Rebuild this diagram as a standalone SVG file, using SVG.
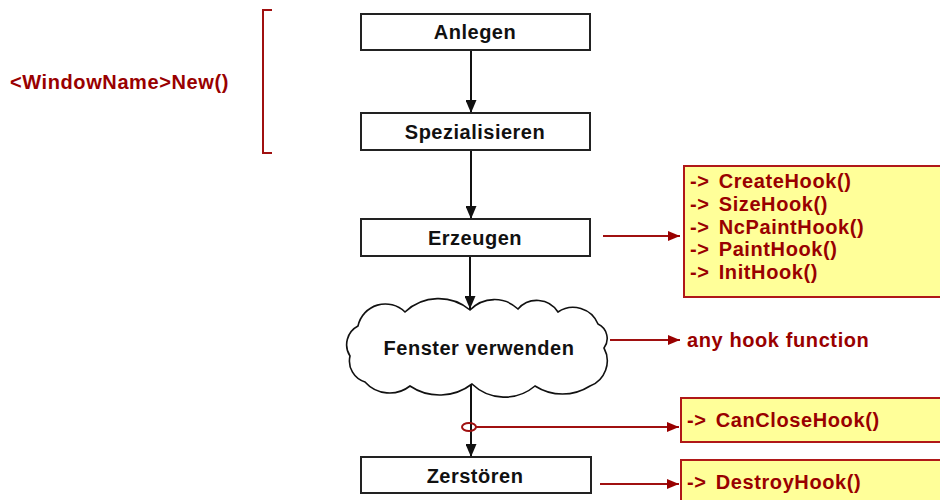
<svg xmlns="http://www.w3.org/2000/svg" width="940" height="500" viewBox="0 0 940 500">
<defs>
<style>
.box{fill:#ffffff;stroke:#222222;stroke-width:2}
.hook{fill:#ffff99;stroke:#b01818;stroke-width:2}
.t{font-family:"Liberation Sans",Arial,sans-serif;font-weight:bold;font-size:20px;letter-spacing:0.5px;fill:#111111}
.r{font-family:"Liberation Sans",Arial,sans-serif;font-weight:bold;font-size:20px;letter-spacing:0.6px;fill:#990000}
.hk{word-spacing:3px}
.flow{stroke:#111111;stroke-width:2;fill:none}
.red{stroke:#a01010;stroke-width:2;fill:none}
</style>
<marker id="ab" viewBox="0 0 13 11" refX="13" refY="5.5" markerWidth="13" markerHeight="11" markerUnits="userSpaceOnUse" orient="auto">
<path d="M0,0 L13,5.5 L0,11 Z" fill="#111111"/>
</marker>
<marker id="ar" viewBox="0 0 12 10" refX="12" refY="5" markerWidth="12" markerHeight="10" markerUnits="userSpaceOnUse" orient="auto">
<path d="M0,0 L12,5 L0,10 Z" fill="#990000"/>
</marker>
</defs>
<rect width="940" height="500" fill="#ffffff"/>

<g id="bracket">
<path d="M272,10 H263 V153 H272" class="red"/>
<text x="10" y="89" class="r">&lt;WindowName&gt;New()</text>
</g>

<g id="connectors">
<line x1="471" y1="50" x2="471" y2="113" class="flow" marker-end="url(#ab)"/>
<line x1="471" y1="150" x2="471" y2="219" class="flow" marker-end="url(#ab)"/>
<line x1="470" y1="256" x2="470" y2="309" class="flow" marker-end="url(#ab)"/>
<line x1="471" y1="384" x2="471" y2="457" class="flow" marker-end="url(#ab)"/>
<line x1="603" y1="236" x2="680" y2="236" class="red" marker-end="url(#ar)"/>
<line x1="610" y1="340" x2="680" y2="340" class="red" marker-end="url(#ar)"/>
<ellipse cx="469" cy="427" rx="7" ry="4" class="red" stroke-width="1.5"/>
<line x1="476" y1="427" x2="679" y2="427" class="red" marker-end="url(#ar)"/>
<line x1="600" y1="484" x2="679" y2="484" class="red" marker-end="url(#ar)"/>
</g>

<g id="anlegen">
<rect x="361" y="14" width="229" height="36" class="box"/>
<text x="475" y="39" class="t" text-anchor="middle">Anlegen</text>
</g>
<g id="spezialisieren">
<rect x="361" y="113" width="229" height="37" class="box"/>
<text x="475" y="139" class="t" text-anchor="middle">Spezialisieren</text>
</g>
<g id="erzeugen">
<rect x="361" y="219" width="229" height="37" class="box"/>
<text x="475" y="245" class="t" text-anchor="middle">Erzeugen</text>
</g>
<g id="fenster">
<path d="M358,326 A28,28 0 0 1 405,312 A49,49 0 0 1 470,310 A34,34 0 0 1 518,309 A25,25 0 0 1 558,312 A27,27 0 0 1 598,324 A16,16 0 0 1 604,348 A27,27 0 0 1 590,386 A51,51 0 0 1 535,386 A47,47 0 0 1 472,384 A53,53 0 0 1 410,386 A33,33 0 0 1 365,382 A22,22 0 0 1 350,356 A21,21 0 0 1 358,326 Z" fill="#ffffff" stroke="#111111" stroke-width="1.6"/>
<text x="479" y="355" class="t" text-anchor="middle">Fenster verwenden</text>
</g>
<g id="zerstoeren">
<rect x="361" y="457" width="230" height="36" class="box"/>
<text x="475" y="483" class="t" text-anchor="middle">Zerstören</text>
</g>

<g id="hooks-create">
<rect x="684" y="166" width="270" height="131" class="hook"/>
<text class="r hk" x="690" y="188">-&gt; CreateHook()</text>
<text class="r hk" x="690" y="211">-&gt; SizeHook()</text>
<text class="r hk" x="690" y="234">-&gt; NcPaintHook()</text>
<text class="r hk" x="690" y="256">-&gt; PaintHook()</text>
<text class="r hk" x="690" y="279">-&gt; InitHook()</text>
</g>
<g id="any-hook">
<text class="r" x="687" y="347">any hook function</text>
</g>
<g id="hooks-close">
<rect x="681" y="398" width="270" height="44" class="hook"/>
<text class="r hk" x="687" y="427">-&gt; CanCloseHook()</text>
</g>
<g id="hooks-destroy">
<rect x="681" y="460" width="270" height="60" class="hook"/>
<text class="r hk" x="687" y="489">-&gt; DestroyHook()</text>
</g>
</svg>
